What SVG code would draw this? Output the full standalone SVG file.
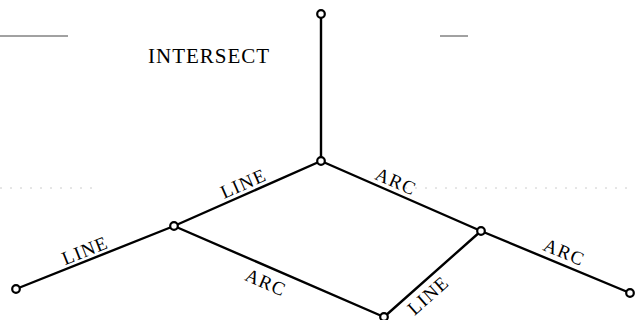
<svg xmlns="http://www.w3.org/2000/svg" width="635" height="320" viewBox="0 0 635 320">
<style>
.edge{stroke:#000;stroke-width:2.4;fill:none;stroke-linecap:round}
.node{fill:#fff;stroke:#000;stroke-width:2.2}
.lbl{font-family:"Liberation Serif","Times New Roman",serif;font-size:19px;letter-spacing:1.2px;text-anchor:middle;fill:#000}
.title{font-family:"Liberation Serif","Times New Roman",serif;font-size:21px;letter-spacing:1px;fill:#000}
.rule{stroke:#444;stroke-width:1}
.faint{stroke:#ccc;stroke-width:1;stroke-dasharray:2 8}
</style>
<rect width="635" height="320" fill="#fff"/>
<g id="rules">
<line class="rule" x1="0" y1="36" x2="68" y2="36"/>
<line class="rule" x1="440" y1="36" x2="468" y2="36"/>
<line class="faint" x1="0" y1="188" x2="100" y2="188"/>
<line class="faint" x1="395" y1="188" x2="632" y2="188"/>
</g>
<g id="title"><text class="title" x="148" y="63">INTERSECT</text></g>
<g id="connectors">
<line class="edge" x1="321" y1="14" x2="321" y2="161" stroke-width="2.8"/>
<line class="edge" x1="321" y1="161" x2="174" y2="226"/>
<line class="edge" x1="16" y1="289" x2="174" y2="226"/>
<line class="edge" x1="321" y1="161" x2="481" y2="231"/>
<line class="edge" x1="481" y1="231" x2="630" y2="293"/>
<line class="edge" x1="174" y1="226" x2="384" y2="317"/>
<line class="edge" x1="384" y1="317" x2="481" y2="231"/>
<text class="lbl" transform="translate(247.7,193.5) rotate(-23.85)" y="-4.5">LINE</text>
<text class="lbl" transform="translate(88.9,260) rotate(-21.74)" y="-4">LINE</text>
<text class="lbl" transform="translate(391.3,191.8) rotate(23.63)" y="-5">ARC</text>
<text class="lbl" transform="translate(559.5,263.6) rotate(22.59)" y="-6">ARC</text>
<text class="lbl" transform="translate(271.8,268.5) rotate(23.43)" y="21.5">ARC</text>
<text class="lbl" transform="translate(419.5,285.5) rotate(-41.56)" y="19.5">LINE</text>
</g>
<g id="n-top"><circle class="node" cx="321" cy="14" r="3.8"/></g>
<g id="n-center"><circle class="node" cx="321" cy="161" r="3.8"/></g>
<g id="n-leftmid"><circle class="node" cx="174" cy="226" r="3.8"/></g>
<g id="n-leftend"><circle class="node" cx="16" cy="289" r="3.8"/></g>
<g id="n-rightmid"><circle class="node" cx="481" cy="231" r="3.8"/></g>
<g id="n-rightend"><circle class="node" cx="630" cy="293" r="3.8"/></g>
<g id="n-bottom"><circle class="node" cx="384" cy="317" r="3.8"/></g>
</svg>
